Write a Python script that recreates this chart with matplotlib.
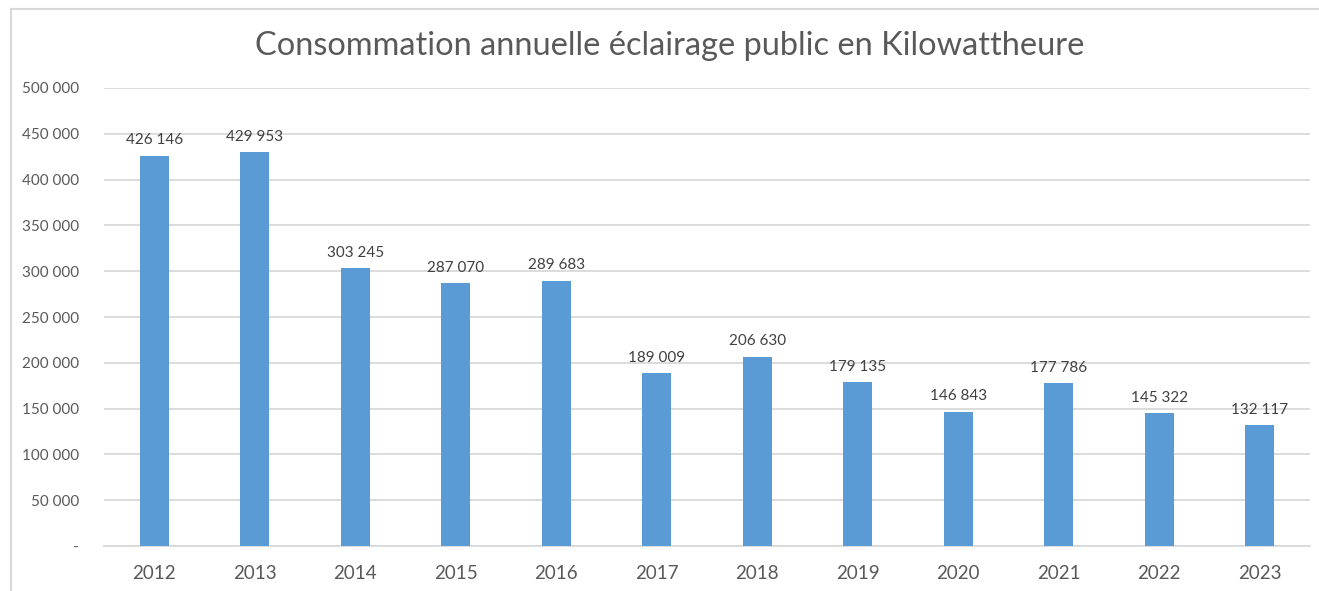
import matplotlib
matplotlib.use("Agg")
import matplotlib.pyplot as plt
from matplotlib.ticker import FuncFormatter, MultipleLocator

years = ["2012", "2013", "2014", "2015", "2016", "2017", "2018", "2019", "2020", "2021", "2022", "2023"]
consumption = [426146, 429953, 303245, 287070, 289683, 189009, 206630, 179135, 146843, 177786, 145322, 132117]
title = "Consommation annuelle éclairage public en Kilowattheure"

plt.rcParams['font.family'] = ['Lato', 'DejaVu Sans']

def fmt(v):
    s = f"{int(round(v)):,}".replace(",", " ")
    return s

fig = plt.figure(figsize=(13.19, 5.91), dpi=100)
ax = fig.add_axes([0.0788, 0.0761, 0.9144, 0.7750])

x = list(range(len(years)))
bars = ax.bar(x, consumption, width=0.29, color="#5B9BD5", zorder=3)
ax.set_xlim(-0.5, len(years) - 0.5)
ax.set_ylim(0, 500000)
ax.yaxis.set_major_locator(MultipleLocator(50000))
ax.yaxis.set_major_formatter(FuncFormatter(lambda v, p: "-" if v == 0 else fmt(v)))
ax.set_xticks(x)
ax.set_xticklabels(years)
ax.grid(axis="y", color="#D9D9D9", linewidth=1.3, zorder=0)
for s in ["top", "right", "left"]:
    ax.spines[s].set_visible(False)
ax.spines["bottom"].set_color("#D9D9D9")
ax.spines["bottom"].set_linewidth(1.3)
ax.tick_params(axis="both", length=0, colors="#595959")
ax.tick_params(axis="y", labelsize=11, pad=18)
ax.tick_params(axis="x", labelsize=13.5, pad=14)

for xi, v in zip(x, consumption):
    ax.annotate(fmt(v), (xi, v), xytext=(0, 6), textcoords="offset points",
                ha="center", va="bottom", fontsize=11, color="#404040")

fig.text(0.508, 0.922, title, ha="center", va="center", fontsize=23.4,
         color="#595959")

# chart frame (left and top edges visible)
fig.add_artist(plt.Line2D([0.0083, 0.0083], [0, 0.985], transform=fig.transFigure, color="#D9D9D9", linewidth=1.5))
fig.add_artist(plt.Line2D([0.0083, 1.0], [0.985, 0.985], transform=fig.transFigure, color="#D9D9D9", linewidth=1.5))

fig.savefig("out.png", dpi=100)
